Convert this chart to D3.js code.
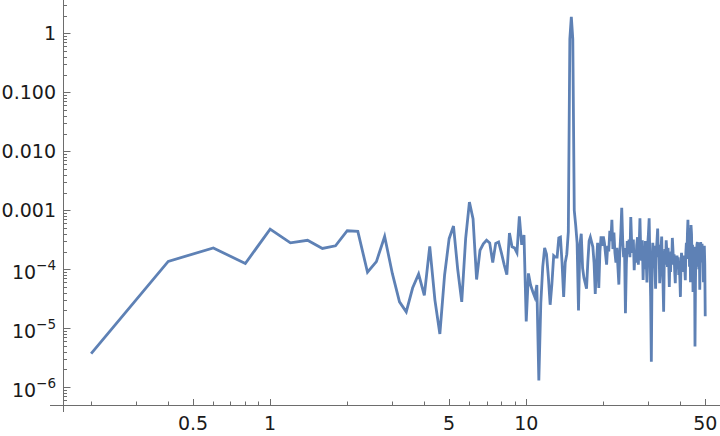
<!DOCTYPE html>
<html><head><meta charset="utf-8">
<script src="https://cdn.jsdelivr.net/npm/d3@7"></script>
<style>body{margin:0;background:#fff} svg{display:block}</style>
</head><body>
<svg id="c" width="720" height="436"></svg>
<script>
// frequency grid: 0.2, 0.4, ..., 50
const freqStart = 0.2, freqStep = 0.2;
// power values
const power = [
 3.7e-6, 1.36e-4, 2.3e-4, 1.25e-4, 4.8e-4, 2.8e-4, 3.1e-4, 2.25e-4, 2.5e-4, 4.5e-4,
 4.4e-4, 8.9e-5, 1.35e-4, 3.6e-4, 8.5e-5, 2.8e-5, 1.9e-5, 4.8e-5, 8.3e-5, 3.6e-5,
 2.45e-4, 3.0e-5, 8.0e-6, 8.0e-5, 3.3e-4, 5.4e-4, 1.0e-4, 2.8e-5, 3.3e-4, 1.38e-3,
 7.1e-4, 6.7e-5, 2.1e-4, 2.7e-4, 3.1e-4, 2.8e-4, 1.3e-4, 2.75e-4, 2.9e-4, 1.9e-4,
 1.2e-4, 8.1e-5, 4.1e-4, 2.4e-4, 2.3e-4, 1.9e-4, 7.9e-4, 2.6e-4, 3.8e-4, 1.3e-5,
 8.5e-5, 5.4e-5, 4.2e-5, 3.4e-5, 5.4e-5, 1.3e-6, 2.65e-5, 1.1e-4, 2.3e-4, 1.8e-4,
 7.5e-5, 2.5e-5, 5.7e-5, 1.7e-4, 1.6e-4, 1.6e-4, 3.4e-4, 3.5e-4, 1.3e-4, 3.4e-5,
 1.3e-4, 1.8e-4, 4.3e-4, 0.8, 1.9, 0.8, 1.0e-3, 5.6e-4, 2.8e-4, 2.0e-5,
 2.6e-4, 4.0e-4, 1.05e-4, 7.2e-5, 5.8e-5, 4.7e-5, 1.33e-4, 3.0e-4, 3.5e-4, 2.9e-4,
 2.4e-4, 1.3e-4, 3.8e-5, 1.2e-4, 2.8e-4, 4.8e-5, 2.0e-4, 3.6e-4, 2.5e-4, 3.6e-4,
 2.8e-4, 1.8e-4, 1.2e-4, 2.5e-4, 2.0e-4, 4.5e-4, 3.0e-4, 6.9e-4, 2.2e-4, 4.2e-4,
 1.9e-4, 1.3e-4, 2.3e-4, 1.1e-4, 5.5e-5, 2.0e-4, 4.0e-4, 1.1e-3, 3.2e-4, 1.6e-4,
 2.3e-4, 1.8e-5, 1.2e-4, 3.0e-4, 1.8e-4, 3.2e-4, 1.6e-4, 7.7e-4, 2.9e-4, 1.9e-4,
 3.2e-4, 9.6e-5, 2.0e-4, 1.3e-4, 2.6e-4, 3.5e-4, 1.2e-4, 2.4e-4, 7.3e-4, 2.0e-4,
 1.4e-4, 3.1e-4, 6.6e-5, 2.2e-4, 1.0e-4, 3.0e-4, 1.5e-4, 6.0e-5, 2.6e-4, 4.0e-4,
 7.3e-4, 1.5e-4, 3.5e-5, 2.7e-6, 1.0e-4, 2.8e-4, 1.6e-4, 2.5e-4, 1.1e-4, 4.7e-5,
 2.0e-4, 3.0e-4, 4.9e-4, 1.6e-4, 2.6e-4, 5.8e-5, 1.9e-4, 2.2e-4, 3.6e-4, 1.0e-4,
 6.0e-5, 1.9e-5, 1.4e-4, 2.2e-4, 1.2e-4, 3.1e-4, 2.0e-4, 1.1e-4, 2.3e-4, 1.3e-4,
 5.0e-5, 1.6e-4, 9.0e-5, 2.0e-4, 1.4e-4, 3.4e-4, 2.2e-4, 1.2e-4, 1.8e-4, 9.0e-5,
 5.8e-5, 1.5e-4, 1.0e-4, 1.7e-4, 1.2e-4, 1.6e-4, 8.0e-5, 1.3e-4, 7.0e-5, 3.4e-5,
 1.2e-4, 1.9e-4, 1.1e-4, 1.6e-4, 1.7e-4, 9.0e-5, 1.5e-4, 1.0e-4, 6.5e-5, 1.9e-4,
 2.8e-4, 1.5e-4, 4.0e-4, 6.9e-4, 2.0e-4, 5.0e-4, 1.1e-4, 3.0e-4, 6.0e-5, 5.6e-4,
 4.0e-4, 1.5e-4, 2.6e-4, 4.1e-5, 1.8e-4, 9.0e-5, 2.4e-4, 4.9e-6, 6.0e-5, 2.0e-4,
 1.1e-4, 2.6e-4, 2.9e-4, 1.6e-4, 2.8e-4, 1.0e-4, 2.5e-4, 4.5e-5, 1.5e-4, 2.9e-4,
 1.4e-4, 2.2e-4, 2.7e-4, 1.3e-4, 2.4e-4, 6.0e-5, 1.8e-4, 2.5e-4, 1.2e-4, 1.6e-5
];
const freqs = power.map((_, i) => +(freqStart + freqStep * i).toFixed(1));

const xMajorTicks = [0.5, 1, 5, 10, 50];
const xTickLabels = ["0.5", "1", "5", "10", "50"];
const xMinorTicks = [0.2,0.3,0.4,0.6,0.7,0.8,0.9,2,3,4,6,7,8,9,20,30,40];
const yMajorTicks = [1, 0.1, 0.01, 0.001, 1e-4, 1e-5, 1e-6];
const yTickBase = ["1", "0.100", "0.010", "0.001", "10", "10", "10"];
const yTickExp = ["", "", "", "", "\u22124", "\u22125", "\u22126"];

const svg = d3.select("#c");
const x = d3.scaleLog().domain([0.1553, 57.1]).range([63, 720]);
const y = d3.scaleLog().domain([5.0e-7, 3.67]).range([405, 0]);

const yMinor = [];
for (let e = -7; e <= 0; e++) for (let m = 2; m <= 9; m++) {
  const v = m * Math.pow(10, e);
  if (v >= 5.0e-7 && v <= 3.67) yMinor.push(v);
}

const axisColor = "#6d6d6d";
const g = svg.append("g");
// axis lines
g.append("line").attr("x1", 50).attr("x2", 720).attr("y1", 405.5).attr("y2", 405.5)
  .attr("stroke", axisColor).attr("stroke-width", 1);
g.append("line").attr("x1", 63.5).attr("x2", 63.5).attr("y1", 0).attr("y2", 412)
  .attr("stroke", axisColor).attr("stroke-width", 1);

// x ticks
g.selectAll(".xmaj").data(xMajorTicks).join("line")
  .attr("x1", d => Math.round(x(d)) + 0.5).attr("x2", d => Math.round(x(d)) + 0.5)
  .attr("y1", 405).attr("y2", 399).attr("stroke", axisColor);
g.selectAll(".xmin").data(xMinorTicks).join("line")
  .attr("x1", d => Math.round(x(d)) + 0.5).attr("x2", d => Math.round(x(d)) + 0.5)
  .attr("y1", 405).attr("y2", 401.5).attr("stroke", axisColor);
// y ticks
g.selectAll(".ymaj").data(yMajorTicks).join("line")
  .attr("y1", d => Math.round(y(d)) + 0.5).attr("y2", d => Math.round(y(d)) + 0.5)
  .attr("x1", 63).attr("x2", 70.5).attr("stroke", axisColor);
g.selectAll(".ymin").data(yMinor).join("line")
  .attr("y1", d => Math.round(y(d)) + 0.5).attr("y2", d => Math.round(y(d)) + 0.5)
  .attr("x1", 63).attr("x2", 67).attr("stroke", axisColor);

// labels
const font = "DejaVu Sans";
g.selectAll(".xl").data(xMajorTicks).join("text")
  .attr("x", d => x(d)).attr("y", 430)
  .attr("text-anchor", "middle").attr("font-family", font).attr("font-size", 19)
  .attr("fill", "#1a1a1a").text((d, i) => xTickLabels[i]);

yMajorTicks.forEach((v, i) => {
  const t = g.append("text").attr("x", 56).attr("text-anchor", "end")
    .attr("font-family", font).attr("font-size", 19).attr("fill", "#1a1a1a");
  if (yTickExp[i]) {
    t.attr("y", y(v) + 10);
    t.append("tspan").text(yTickBase[i]);
    t.append("tspan").attr("font-size", 13.5).attr("dy", -9.3).text(yTickExp[i]);
  } else {
    t.attr("y", y(v) + 7).text(yTickBase[i]);
  }
});

// data line
const line = d3.line().x(d => x(d[0])).y(d => y(d[1]));
svg.append("path").datum(freqs.map((f, i) => [f, power[i]]))
  .attr("d", line).attr("fill", "none").attr("stroke", "#5e81b5")
  .attr("stroke-width", 2.8).attr("stroke-linejoin", "miter");
</script>
</body></html>
